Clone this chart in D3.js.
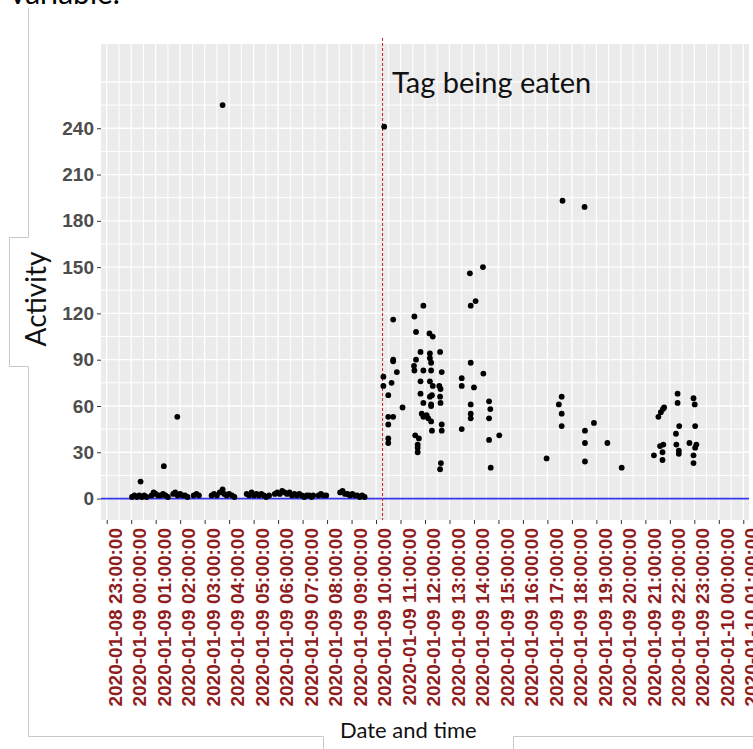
<!DOCTYPE html>
<html>
<head>
<meta charset="utf-8">
<script src="https://cdn.jsdelivr.net/npm/d3@7"></script>
<style>
  body { margin: 0; background: #fff; }
  svg { display: block; }
</style>
</head>
<body>
<div class="activity-chart"></div>
<script>
// activity readings before the tag was eaten (2020-01-09, HH:MM)
var beforeTimes = ["00:02","00:08","00:14","00:20","00:23","00:26","00:32","00:38",
	"00:50","00:55","01:00","01:06","01:12","01:18","01:20","01:24","01:30",
	"01:43","01:48","01:53","01:54","02:00","02:06","02:12","02:18",
	"02:33","02:40","02:46",
	"03:17","03:23","03:30","03:37","03:44","03:44","03:48","03:54","04:00","04:07","04:13",
	"04:43","04:49","04:55","05:01","05:07","05:13","05:19","05:25","05:31","05:38",
	"05:52","05:58","06:04","06:10","06:16","06:22","06:28","06:34","06:40","06:46","06:52","06:58","07:04","07:10","07:16","07:22","07:26",
	"07:39","07:45","07:51","07:58",
	"08:32","08:38","08:44","08:50","08:56","09:02","09:08","09:14","09:20","09:26","09:32"];
var beforeActivity = [1,2,1,2,11,1,2,1,
	2,4,3,2,2,3,21,2,1,
	3,4,53,2,3,2,2,1,
	2,3,2,
	2,3,2,4,6,255,3,2,3,2,1,
	3,2,4,2,3,2,3,2,1,2,
	3,4,3,5,4,3,4,2,3,2,3,2,1,2,2,1,2,
	2,3,2,2,
	4,5,3,3,2,3,2,2,1,2,1];

// activity readings after the tag was eaten
var afterTimes = ["10:18","10:18","10:20","10:30","10:30","10:42","10:30","10:30","10:30","10:38","10:42","10:42","10:51","10:42","11:05",
	"11:34","11:38","11:56","11:49","11:38","11:33","11:34","11:56","11:49","11:49","11:56","11:52","11:56","11:36","11:45","11:42","11:42","11:42",
	"12:11","12:19","12:12","12:12","12:15","12:15","12:12","12:19","12:17","12:12","12:15","12:15","12:08","12:15","12:17","12:04",
	"12:37","12:41","12:35","12:38","12:37","12:38","12:41","12:41","12:39","12:37",
	"13:30","13:30","13:30","13:50","13:52","14:04","13:52","14:00","13:52","13:52","13:52",
	"14:22","14:23","14:37","14:40","14:37","14:37","14:41","15:02",
	"16:58","17:28","17:35","17:35","17:35","17:37",
	"18:31","18:32","18:32","18:32","18:54","19:27","20:02",
	"21:21","21:42","21:42","21:44","21:36","21:32","21:38","21:43","21:46",
	"22:19","22:19","22:23","22:15","22:16","22:22","22:22",
	"22:58","23:01","23:02","22:48","23:05","23:02","22:58","22:58"];
var afterActivity = [79,73,241,67,53,53,48,39,36,75,90,89,82,116,59,
	118,108,125,95,90,86,83,83,76,68,62,55,53,41,39,35,33,30,
	107,105,94,91,88,83,76,73,67,66,61,60,52,50,44,54,
	95,82,73,71,66,62,48,44,23,19,
	78,73,45,146,125,128,88,72,61,55,52,
	150,81,63,58,52,38,20,41,
	26,61,66,55,47,193,
	189,44,36,24,49,36,20,
	28,30,25,35,34,53,56,58,59,
	68,62,47,42,35,31,29,
	65,61,47,36,35,33,28,23];

var yTicks = [0, 30, 60, 90, 120, 150, 180, 210, 240];
var tagEatenAt = "2020-01-09 10:16";
var annotation = "Tag being eaten";
var xTitle = "Date and time";
var yTitle = "Activity";

function drawChart() {
	var sel = d3.select(".activity-chart").html("");
	var width = 753, height = 749;

	var svg = sel.append("svg")
		.attr("width", width)
		.attr("height", height)

	var panel = {left: 101, right: 749, top: 44, bottom: 520};
	var parse = d3.timeParse("%Y-%m-%d %H:%M");

	var points = beforeTimes.map(function(t, i){ return {t: parse("2020-01-09 " + t), v: beforeActivity[i]}; })
		.concat(afterTimes.map(function(t, i){ return {t: parse("2020-01-09 " + t), v: afterActivity[i]}; }));

	var x = d3.scaleTime()
		.domain([parse("2020-01-08 22:46"), parse("2020-01-10 01:14")])
		.range([panel.left, panel.right]);
	var y = d3.scaleLinear().domain([-13.9, 294.6]).range([panel.bottom, panel.top]);

	// page furniture (text box borders of the document)
	var frame = svg.append("g")
		.style("stroke", "#c8c8c8").style("fill", "none").style("stroke-width", 1);
	frame.append("path").attr("d", "M28.5,8V237.5H9.5V366.5H28.5V736.5H323.5V749");
	frame.append("path").attr("d", "M513.5,749V736.5H753");

	svg.append("text")
		.attr("x", 10).attr("y", 4)
		.style("font", "30px Lato")
		.text("variable.");

	// panel + grid
	svg.append("rect")
		.attr("x", panel.left).attr("y", panel.top)
		.attr("width", panel.right - panel.left).attr("height", panel.bottom - panel.top)
		.style("fill", "#ebebeb");

	var hours = d3.timeHour.range(parse("2020-01-08 23:00"), parse("2020-01-10 01:01"));
	var halfHours = hours.map(function(d){ return d3.timeMinute.offset(d, 30); })
		.filter(function(d){ return x(d) < panel.right; });
	var yMinor = d3.range(15, 270, 30);

	var grid = svg.append("g").style("stroke", "#fff");
	grid.selectAll("line.vminor").data(halfHours).enter().append("line")
		.attr("x1", x).attr("x2", x).attr("y1", panel.top).attr("y2", panel.bottom)
		.style("stroke-width", 1);
	grid.selectAll("line.hminor").data(yMinor).enter().append("line")
		.attr("x1", panel.left).attr("x2", panel.right).attr("y1", y).attr("y2", y)
		.style("stroke-width", 1);
	grid.selectAll("line.vmajor").data(hours).enter().append("line")
		.attr("x1", x).attr("x2", x).attr("y1", panel.top).attr("y2", panel.bottom)
		.style("stroke-width", 1.3);
	grid.selectAll("line.hmajor").data(yTicks.concat([270])).enter().append("line")
		.attr("x1", panel.left).attr("x2", panel.right).attr("y1", y).attr("y2", y)
		.style("stroke-width", 1.3);

	// zero line
	svg.append("line")
		.attr("x1", panel.left).attr("x2", panel.right)
		.attr("y1", y(0)).attr("y2", y(0))
		.style("stroke", "#3535f0").style("stroke-width", 1.8);

	// tag eaten marker
	svg.append("line")
		.attr("x1", x(parse(tagEatenAt))).attr("x2", x(parse(tagEatenAt)))
		.attr("y1", 38).attr("y2", panel.bottom)
		.style("stroke", "#cc1f1f").style("stroke-width", 1)
		.style("stroke-dasharray", "3,2");

	svg.append("g").selectAll("circle").data(points).enter().append("circle")
		.attr("cx", function(d){ return x(d.t); })
		.attr("cy", function(d){ return y(d.v); })
		.attr("r", 2.9)
		.style("fill", "#000");

	// axes
	var yAxis = d3.axisLeft(y).tickValues(yTicks).tickSize(4).tickPadding(3);
	var gy = svg.append("g")
		.attr("transform", "translate(" + panel.left + ",0)")
		.call(yAxis);
	gy.select(".domain").remove();
	gy.selectAll("line").style("stroke", "#333");
	gy.selectAll("text")
		.style("font", "bold 19px 'Liberation Sans', Arial, sans-serif")
		.style("fill", "#4d4d4d");

	var xAxis = d3.axisBottom(x).tickValues(hours).tickSize(4)
		.tickFormat(d3.timeFormat("%Y-%m-%d %H:%M:%S"));
	var gx = svg.append("g")
		.attr("transform", "translate(0," + panel.bottom + ")")
		.call(xAxis);
	gx.select(".domain").remove();
	gx.selectAll("line").style("stroke", "#333");
	gx.selectAll("text")
		.attr("transform", "rotate(-90)")
		.attr("x", -8).attr("y", 8).attr("dy", "0.35em")
		.style("text-anchor", "end")
		.style("font", "bold 19px 'Liberation Sans', Arial, sans-serif")
		.style("fill", "#8f1d1d");

	// titles
	svg.append("text")
		.attr("x", 392).attr("y", 93)
		.style("font", "29px Lato").style("fill", "#111")
		.text(annotation);

	svg.append("text")
		.attr("transform", "translate(46,299) rotate(-90)")
		.style("text-anchor", "middle")
		.style("font", "28px Lato").style("fill", "#111")
		.text(yTitle);

	svg.append("text")
		.attr("x", 340).attr("y", 738)
		.style("font", "22px Lato").style("fill", "#111")
		.text(xTitle);
}

drawChart();
</script>
</body>
</html>
